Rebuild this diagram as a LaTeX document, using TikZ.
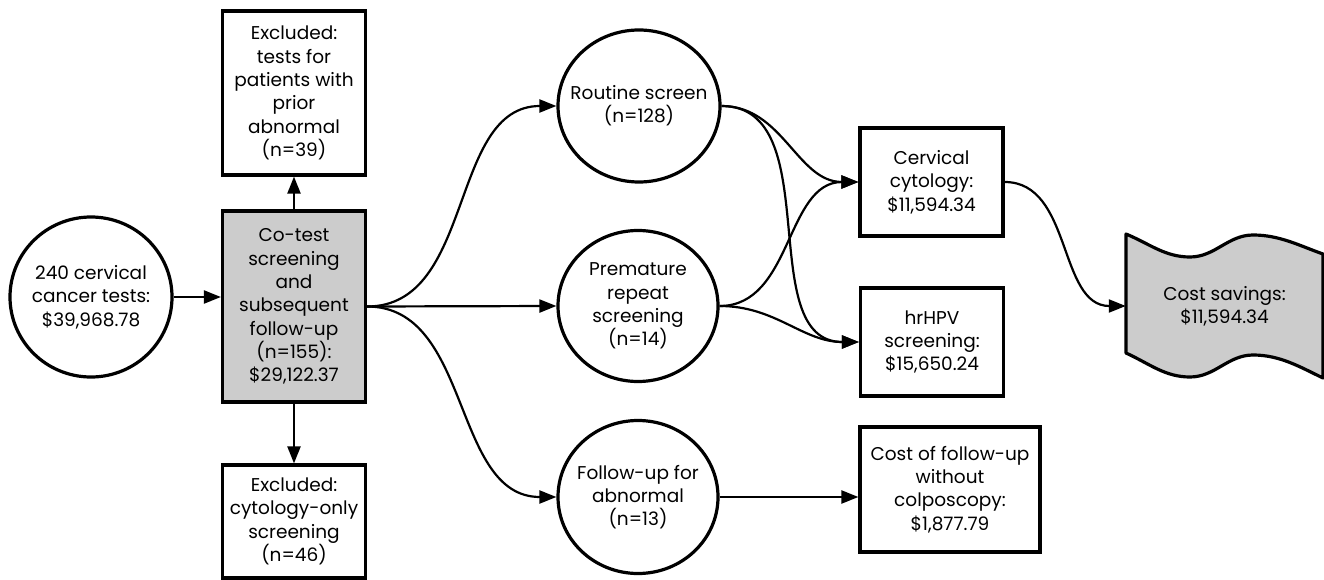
\documentclass[tikz,border=0pt]{standalone}
\usepackage{fontspec}
\setmainfont{Poppins}
\usetikzlibrary{arrows.meta,calc,shapes.geometric}
\definecolor{boxgray}{HTML}{CCCCCC}
\begin{document}
\begin{tikzpicture}[x=1pt,y=-1pt,
  every node/.style={font=\fontsize{18.5}{23.3}\selectfont, align=center, inner sep=0pt},
  boxnode/.style={draw=black, line width=3.2pt, rectangle, minimum width=#1},
  boxnode/.default=143pt,
  roundnode/.style={draw=black, line width=3.2pt, ellipse},
  conn/.style={draw=black, line width=2.2pt, -{Triangle[length=17pt,width=13pt]}},
]
\useasboundingbox (0,0) rectangle (1324,580);

\node[roundnode, minimum width=162pt, minimum height=160pt,
  label={[name=startt]center:240 cervical\\cancer tests:\\\$39,968.78}] (start) at (91,297) {};
\node[boxnode, fill=boxgray, minimum height=191pt] (cotest) at (294,306.5) {Co-test\\screening\\and\\subsequent\\follow-up\\(n=155):\\\$29,122.37};
\node[boxnode, minimum height=164pt] (excl1) at (294,93) {Excluded:\\tests for\\patients with\\prior\\abnormal\\(n=39)};
\node[boxnode, minimum height=113pt] (excl2) at (294,521.5) {Excluded:\\cytology-only\\screening\\(n=46)};

\node[roundnode, minimum width=162pt, minimum height=152pt,
  label={[name=routinet]center:Routine screen\\(n=128)}] (routine) at (639,106) {};
\node[roundnode, minimum width=160pt, minimum height=151pt,
  label={[name=prematuret]center:Premature\\repeat\\screening\\(n=14)}] (premature) at (638,306) {};
\node[roundnode, minimum width=160pt, minimum height=153pt,
  label={[name=followupt]center:Follow-up for\\abnormal\\(n=13)}] (followup) at (638,497) {};

\node[boxnode, minimum height=108pt] (cyto) at (931.5,182) {Cervical\\cytology:\\\$11,594.34};
\node[boxnode, minimum height=108pt] (hpv) at (932,342) {hrHPV\\screening:\\\$15,650.24};
\node[boxnode=180pt, minimum height=125pt] (costfu) at (950,489.5) {Cost of follow-up\\without\\colposcopy:\\\$1,877.79};

% tape shape
\coordinate (t1) at (1126,234);
\coordinate (t2) at (1323,254);
\coordinate (b2) at (1323,378);
\coordinate (b1) at (1126,353);
\path[draw=black, line width=3.2pt, fill=boxgray, line join=round]
  (t1) .. controls (1150,244) and (1165,257) .. (1190,257)
       .. controls (1215,257) and (1228,235) .. (1253,235)
       .. controls (1280,235) and (1300,246) .. (t2)
  -- (b2)
  .. controls (1300,367) and (1280,355) .. (1253,355)
  .. controls (1228,355) and (1215,377) .. (1190,377)
  .. controls (1165,377) and (1150,364) .. (b1)
  -- cycle;
\node[minimum width=197pt, minimum height=100pt] (tape) at (1224.5,306) {Cost savings:\\\$11,594.34};

% connectors
\draw[conn] (start.east) -- (start.east -| cotest.west);
\draw[conn] (cotest.north) -- (excl1.south);
\draw[conn] (cotest.south) -- (excl2.north);
\draw[conn] (cotest.east) to[out=0,in=180] (routine.west);
\draw[conn] (cotest.east) -- (premature.west);
\draw[conn] (cotest.east) to[out=0,in=180] (followup.west);
\draw[conn] (routine.east) to[out=0,in=180] (cyto.west);
\draw[conn] (routine.east) to[out=0,in=180] (hpv.west);
\draw[conn] (premature.east) to[out=0,in=180] (cyto.west);
\draw[conn] (premature.east) to[out=0,in=180] (hpv.west);
\draw[conn] (followup.east) -- (followup.east -| costfu.west);
\draw[conn] (cyto.east) to[out=0,in=180] (tape.west);
\end{tikzpicture}
\end{document}
